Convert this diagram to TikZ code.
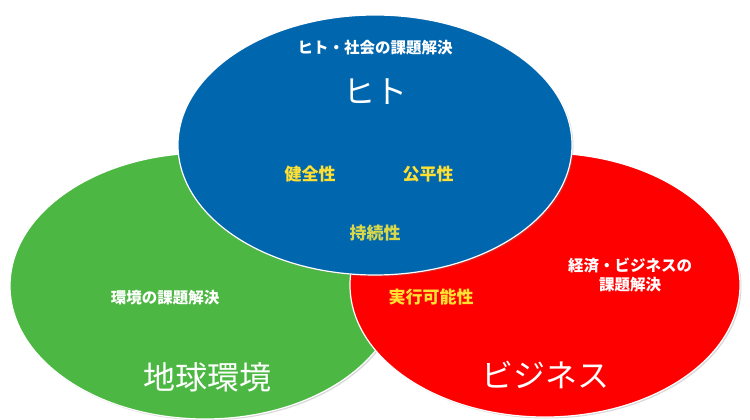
\documentclass[tikz,border=0pt]{standalone}
\usepackage{fontspec}
\setmainfont{Noto Sans CJK JP}
\usetikzlibrary{shadows}
\definecolor{cblue}{HTML}{0066AE}
\definecolor{cgreen}{HTML}{4CB843}
\definecolor{cred}{HTML}{FF0000}
\definecolor{cyel}{HTML}{FFE033}
\definecolor{cyel2}{HTML}{D8D84A}
\tikzset{
 circ/.style={draw=white,line width=1.2pt,drop shadow={shadow xshift=1.5pt,shadow yshift=-1.5pt,opacity=0.3}},
 small/.style={text=white,font=\bfseries\fontsize{15.5}{19}\selectfont,align=center},
 big/.style={text=white,font=\fontsize{32}{34}\selectfont},
 key/.style={text=cyel,font=\bfseries\fontsize{17}{19}\selectfont}
}
\begin{document}
\begin{tikzpicture}[x=1pt,y=-1pt]
\useasboundingbox (0,0) rectangle (750,420);
\fill[circ,fill=cgreen] (205,286) ellipse [x radius=195, y radius=133];
\fill[circ,fill=cred] (545,285) ellipse [x radius=195, y radius=132];
\fill[circ,fill=cblue] (375,145) ellipse [x radius=197, y radius=130];
\node[small] (t1) at (375,48) {ヒト・社会の課題解決};
\node[big] (t2) at (375,92) {ヒト};
\node[key] (k1) at (310,174) {健全性};
\node[key] (k2) at (428,174) {公平性};
\node[key,text=cyel2] (k3) at (375,233) {持続性};
\node[small] (g1) at (165,298) {環境の課題解決};
\node[big] (g2) at (207,377) {地球環境};
\node[key] (k4) at (431,297) {実行可能性};
\node[small] (r1) at (630,275) {経済・ビジネスの\\課題解決};
\node[big] (r2) at (545,375) {ビジネス};
\end{tikzpicture}
\end{document}
